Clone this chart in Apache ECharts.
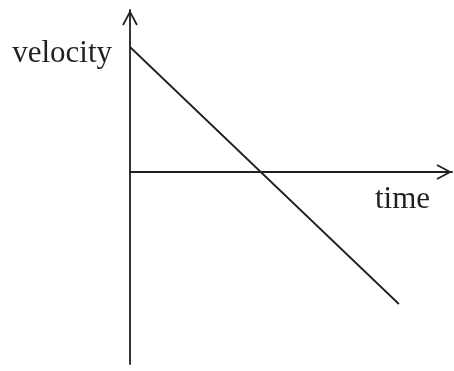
<!DOCTYPE html>
<html>
<head>
<meta charset="utf-8">
<script src="https://cdn.jsdelivr.net/npm/echarts@6/dist/echarts.min.js"></script>
<style>
  html, body { margin: 0; padding: 0; background: #fff; }
  #chart { width: 454px; height: 371px; }
</style>
</head>
<body>
<div id="chart"></div>
<script>
const times = [0, 8.35];
const velocities = [6.25, -6.6];
const axisNames = ["time", "velocity"];

// open chevron arrow head, tip pointing up
const chevron = "path://M8,0 L16,15 L14.4,15.85 L8,3.85 L1.6,15.85 L0,15 Z";
const ink = "#231f20";

const chart = echarts.init(document.getElementById("chart"));

const axisLine = (symbol) => ({
  show: true,
  symbol: symbol,
  symbolSize: [15.5, 15.4],
  symbolOffset: [0, -7.7],
  lineStyle: { color: ink, width: 1.8 },
});

const option = {
  animation: false,
  grid: { left: 130, right: 2, top: 10, bottom: 7 },
  xAxis: {
    type: "value",
    min: 0,
    max: 10,
    name: axisNames[0],
    nameLocation: "end",
    nameGap: -22,
    nameTextStyle: {
      fontFamily: "Liberation Serif",
      fontSize: 31,
      color: ink,
      align: "right",
      verticalAlign: "top",
      padding: [12, 0, 0, 0],
    },
    axisLine: Object.assign(axisLine(["none", chevron]), { onZero: true }),
    axisTick: { show: false },
    axisLabel: { show: false },
    splitLine: { show: false },
  },
  yAxis: {
    type: "value",
    min: -9.6,
    max: 8.1,
    name: axisNames[1],
    nameLocation: "end",
    nameGap: -44,
    nameTextStyle: {
      fontFamily: "Liberation Serif",
      fontSize: 31,
      color: ink,
      align: "right",
      verticalAlign: "middle",
      padding: [0, 18, 0, 0],
    },
    axisLine: Object.assign(axisLine(["none", chevron]), { onZero: false }),
    axisTick: { show: false },
    axisLabel: { show: false },
    splitLine: { show: false },
  },
  series: [
    {
      type: "line",
      data: times.map((t, i) => [t, velocities[i]]),
      showSymbol: false,
      symbol: "none",
      lineStyle: { color: ink, width: 1.8 },
    },
  ],
};

chart.setOption(option);
</script>
</body>
</html>
